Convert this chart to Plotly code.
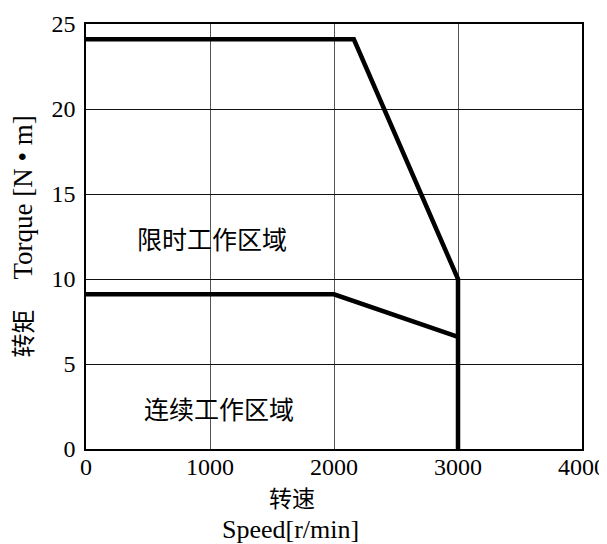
import plotly.graph_objects as go

# 转矩-转速特性曲线
speed_peak = [0, 2160, 3000, 3000]
torque_peak = [24.1, 24.1, 10, 0]
speed_cont = [0, 2000, 3000]
torque_cont = [9.1, 9.1, 6.6]

x_ticks = [0, 1000, 2000, 3000, 4000]
y_ticks = [0, 5, 10, 15, 20, 25]

zone_labels = ["限时工作区域", "连续工作区域"]
zone_x = [1015, 1075]
zone_y = [12.4, 2.4]

FONT = "Liberation Serif, Noto Sans CJK SC"
CJK = "Noto Sans CJK SC"

fig = go.Figure()
fig.add_trace(go.Scatter(x=speed_peak, y=torque_peak, mode="lines",
                         line=dict(color="black", width=4.5), cliponaxis=False))
fig.add_trace(go.Scatter(x=speed_cont, y=torque_cont, mode="lines",
                         line=dict(color="black", width=4.5), cliponaxis=False))

for txt, xx, yy in zip(zone_labels, zone_x, zone_y):
    fig.add_annotation(x=xx, y=yy, text=txt, showarrow=False,
                       font=dict(size=25, color="black", family=CJK))

# 坐标轴标题 (positions in plot-area fractions)
fig.add_annotation(xref="paper", yref="paper", x=(22 - 86) / 496, y=0.5,
                   text="转矩　 <span style='font-size:27px'>Torque [N • m]</span>",
                   textangle=-90, showarrow=False,
                   xanchor="center", yanchor="middle",
                   font=dict(size=24, color="black", family=FONT))
fig.add_annotation(xref="paper", yref="paper", x=(292 - 86) / 496, y=-0.113,
                   text="转速", showarrow=False, xanchor="center", yanchor="middle",
                   font=dict(size=23, color="black", family=CJK))
fig.add_annotation(xref="paper", yref="paper", x=(290 - 86) / 496, y=-0.19,
                   text="Speed[r/min]", showarrow=False, xanchor="center", yanchor="middle",
                   font=dict(size=26, color="black", family=FONT))

# the page body keeps its 8px margin, so the figure is 8px smaller
fig.update_layout(
    template="none",
    width=599, height=536,
    margin=dict(l=78, r=25, t=16, b=95),
    paper_bgcolor="white", plot_bgcolor="white",
    showlegend=False,
    font=dict(family=FONT, size=24, color="black"),
    xaxis=dict(range=[0, 4000], tickvals=x_ticks, showgrid=True, automargin=False,
               gridcolor="#555555", gridwidth=1, zeroline=False,
               showline=True, linecolor="black", linewidth=1.5, mirror=True,
               ticks="", ticklabelstandoff=-5,
               tickfont=dict(size=24, family="Liberation Serif", color="black")),
    yaxis=dict(range=[0, 25], tickvals=y_ticks, showgrid=True, automargin=False,
               gridcolor="#111111", gridwidth=1, zeroline=False,
               showline=True, linecolor="black", linewidth=1.5, mirror=True,
               ticks="", ticklabelstandoff=4,
               tickfont=dict(size=24, family="Liberation Serif", color="black")),
)

fig.write_html("out.html")
